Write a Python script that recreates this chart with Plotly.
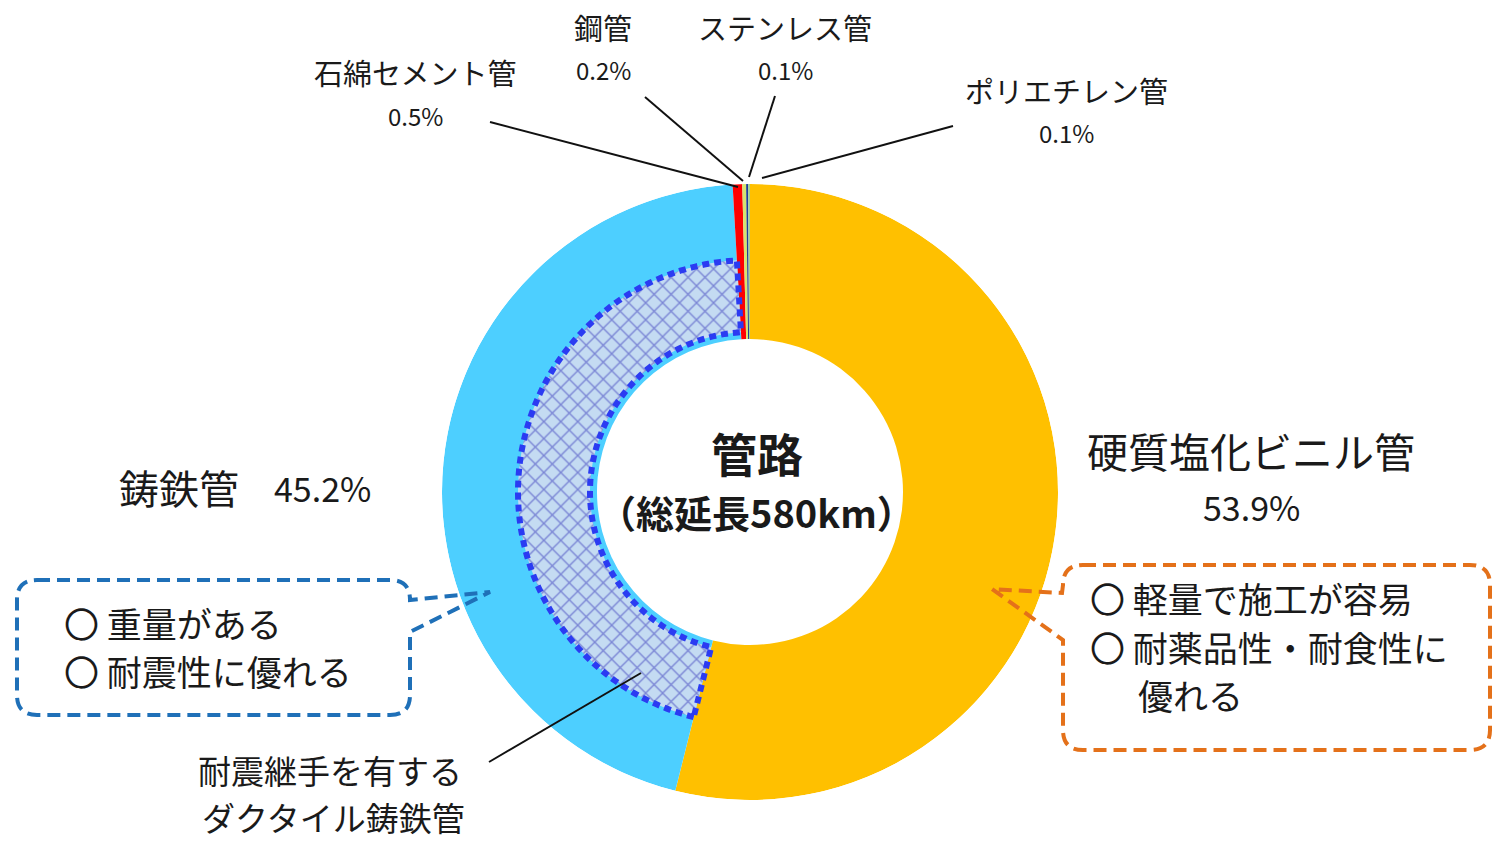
import plotly.graph_objects as go

# Pipe material shares of the network (percent of total length)
materials = ["硬質塩化ビニル管", "鋳鉄管", "石綿セメント管", "鋼管", "ステンレス管", "ポリエチレン管"]
shares = [53.9, 45.2, 0.5, 0.2, 0.1, 0.1]
colors = ["#FFC000", "#4DCFFF", "#FF0000", "#D6E46F", "#1F3D99", "#A9D18E"]

# Cast-iron share carrying seismic joints (inner hatched band)
seismic_name = "耐震継手を有するダクタイル鋳鉄管"
seismic_share = 45.2

center_title = "管路"
center_sub = "（総延長580km）"

W, H = 1492, 841
FONT = "Noto Sans CJK JP"

# Ring geometry in polar radial units (radial range 0..R_OUT)
R_OUT, R_HOLE = 308, 153
R_IN_LO, R_IN_HI = 160, 232


def px(x, y):
    return x / W, 1 - y / H


# Angular placement of each slice, clockwise from 12 o'clock
starts, acc = [], 0.0
for s in shares:
    starts.append(acc)
    acc += s
theta_mid = [(st + s / 2) * 3.6 for st, s in zip(starts, shares)]
widths = [s * 3.6 for s in shares]

fig = go.Figure()

fig.add_trace(go.Barpolar(
    r=[R_OUT - R_HOLE] * len(shares),
    base=[R_HOLE] * len(shares),
    theta=theta_mid,
    width=widths,
    marker=dict(color=colors, line=dict(width=0)),
    name="", showlegend=False, hoverinfo="skip",
))

# Seismic-joint ductile iron: hatched band inside the cast-iron sector
ci = materials.index("鋳鉄管")
ci_start = starts[ci] * 3.6
ci_end = ci_start + seismic_share * 3.6
fig.add_trace(go.Barpolar(
    r=[R_IN_HI - R_IN_LO],
    base=[R_IN_LO],
    theta=[(ci_start + ci_end) / 2],
    width=[ci_end - ci_start],
    marker=dict(
        color="#C4DBF2",
        line=dict(width=0),
        pattern=dict(shape="x", fgcolor="#3232B8", bgcolor="#C4DBF2", size=12, solidity=0.22),
    ),
    showlegend=False, hoverinfo="skip",
))

# Dotted outline around the hatched band
n = 160
arc_out = [ci_start + (ci_end - ci_start) * i / n for i in range(n + 1)]
arc_in = arc_out[::-1]
fig.add_trace(go.Scatterpolar(
    theta=arc_out + arc_in + [arc_out[0]],
    r=[R_IN_HI] * (n + 1) + [R_IN_LO] * (n + 1) + [R_IN_HI],
    mode="lines",
    line=dict(color="#2B3BF2", width=6, dash="7px,5px"),
    showlegend=False, hoverinfo="skip",
))

x0, y1 = px(750 - R_OUT, 492 - R_OUT)
x1, y0 = px(750 + R_OUT, 492 + R_OUT)

fig.update_layout(
    width=W, height=H,
    margin=dict(l=0, r=0, t=0, b=0),
    paper_bgcolor="white",
    plot_bgcolor="white",
    showlegend=False,
    polar=dict(
        domain=dict(x=[x0, x1], y=[y0, y1]),
        bgcolor="rgba(0,0,0,0)",
        radialaxis=dict(visible=False, range=[0, R_OUT]),
        angularaxis=dict(visible=False, direction="clockwise", rotation=90),
    ),
)

annotations = []


def label(text, x, y, size, bold=False, xanchor="center"):
    ax, ay = px(x, y)
    annotations.append(dict(
        text=f"<b>{text}</b>" if bold else text,
        x=ax, y=ay, xref="paper", yref="paper",
        xanchor=xanchor, yanchor="middle", showarrow=False,
        font=dict(family=FONT, size=size, color="#1A1A1A"),
    ))


# Center caption
label(center_title, 757, 452, 46, bold=True)
label(center_sub, 757, 512, 38, bold=True)

# Main slice labels
label(materials[0], 1251, 450, 41)
label(f"{shares[0]}%", 1251, 507, 34)
label(materials[1], 179, 487, 40)
label(f"{shares[1]}%", 322, 487, 34)

# Small slice labels at the top
small = [(2, 415, 72, 115), (3, 603, 27, 70), (4, 785, 27, 70), (5, 1066, 90, 132)]
for i, x, ya, yb in small:
    label(materials[i], x, ya, 29)
    label(f"{shares[i]}%", x, yb, 24)

# Seismic-joint label
label("耐震継手を有する", 330, 770, 33)
label("ダクタイル鋳鉄管", 333, 817, 33)

# Callout texts
label("〇 重量がある", 62, 622, 35, xanchor="left")
label("〇 耐震性に優れる", 62, 670, 35, xanchor="left")
label("〇 軽量で施工が容易", 1088, 597, 35, xanchor="left")
label("〇 耐薬品性・耐食性に", 1088, 646, 35, xanchor="left")
label("優れる", 1136, 694, 35, xanchor="left")

shapes = []


def seg(xa, ya, xb, yb, color="#111111", width=2):
    a, b = px(xa, ya), px(xb, yb)
    shapes.append(dict(type="line", xref="paper", yref="paper",
                       x0=a[0], y0=a[1], x1=b[0], y1=b[1],
                       line=dict(color=color, width=width), layer="above"))


# Leader lines
seg(490, 122, 738, 187)
seg(645, 97, 743, 181)
seg(775, 96, 749, 177)
seg(953, 126, 762, 178)
seg(489, 762, 641, 673)


def path(points_cmds):
    out = []
    for cmd in points_cmds:
        if isinstance(cmd, str):
            out.append(cmd)
        else:
            x, y = px(*cmd)
            out.append(f"{x:.5f},{y:.5f}")
    return " ".join(out)


# Blue callout box pointing at the cast-iron sector
left_box = path([
    "M", (37, 580), "L", (390, 580), "Q", (410, 580), (410, 600),
    "L", (490, 592), "L", (410, 632), "L", (410, 695),
    "Q", (410, 715), (390, 715), "L", (37, 715), "Q", (17, 715), (17, 695),
    "L", (17, 600), "Q", (17, 580), (37, 580), "Z",
])
shapes.append(dict(type="path", xref="paper", yref="paper", path=left_box,
                   line=dict(color="#1F70B8", width=4, dash="13px,7px"), layer="above"))

# Orange callout box pointing at the PVC sector
right_box = path([
    "M", (1083, 565), "L", (1470, 565), "Q", (1490, 565), (1490, 585),
    "L", (1490, 730), "Q", (1490, 750), (1470, 750),
    "L", (1083, 750), "Q", (1063, 750), (1063, 730),
    "L", (1063, 640), "L", (992, 589), "L", (1062, 593),
    "L", (1063, 585), "Q", (1063, 565), (1083, 565), "Z",
])
shapes.append(dict(type="path", xref="paper", yref="paper", path=right_box,
                   line=dict(color="#E4711A", width=4, dash="13px,7px"), layer="above"))

fig.update_layout(annotations=annotations, shapes=shapes)

fig.write_html("out.html")
